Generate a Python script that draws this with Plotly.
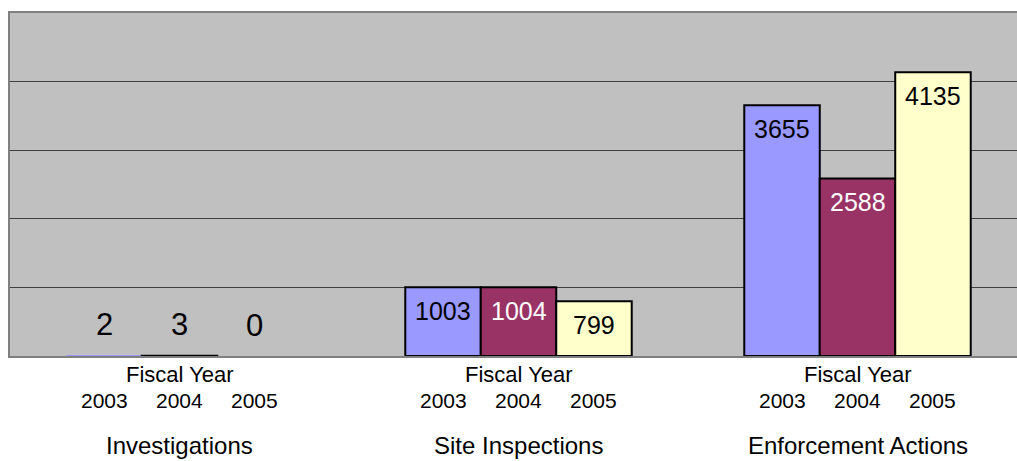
import plotly.graph_objects as go

# data
categories = ["Investigations", "Site Inspections", "Enforcement Actions"]
years = ["2003", "2004", "2005"]
fy2003 = [2, 1003, 3655]
fy2004 = [3, 1004, 2588]
fy2005 = [0, 799, 4135]

series = [fy2003, fy2004, fy2005]
colors = ["#9999FF", "#993366", "#FFFFCC"]
label_colors = ["black", "white", "black"]

FONT = "Arial, Liberation Sans, sans-serif"
GROUP_PX = 339
BAR_GAP = 0.332
bar_px = GROUP_PX * (1 - BAR_GAP) / 3

fig = go.Figure()
for i, (yr, vals) in enumerate(zip(years, series)):
    fig.add_trace(go.Bar(
        x=categories,
        y=vals,
        name=yr,
        marker=dict(color=colors[i],
                    line=dict(color="black", width=[2 if v >= 3 else 0 for v in vals])),
        hoverinfo="x+y+name",
    ))

annotations = []
for i, vals in enumerate(series):
    offset = (i - 1) * bar_px
    for cat, v in zip(categories, vals):
        small = v < 100
        annotations.append(dict(
            x=cat, y=v, xref="x", yref="y", xshift=offset,
            yshift=31 if small else -24,
            text=str(v), showarrow=False,
            font=dict(family=FONT, size=31 if small else 25,
                      color="black" if small else label_colors[i]),
        ))
    # year labels under each bar
    for cat in categories:
        annotations.append(dict(
            x=cat, y=0, xref="x", yref="y", xshift=offset, yshift=-44,
            text=years[i], showarrow=False,
            font=dict(family=FONT, size=21, color="black"),
        ))

for cat in categories:
    annotations.append(dict(
        x=cat, y=0, xref="x", yref="y", yshift=-18,
        text="Fiscal Year", showarrow=False,
        font=dict(family=FONT, size=22, color="black"),
    ))
    annotations.append(dict(
        x=cat, y=0, xref="x", yref="y", yshift=-89,
        text=cat, showarrow=False,
        font=dict(family=FONT, size=24, color="black"),
    ))

fig.update_layout(
    width=1017,
    height=461,
    margin=dict(l=10, r=0, t=13, b=105),
    barmode="group",
    bargap=BAR_GAP,
    bargroupgap=0,
    showlegend=False,
    plot_bgcolor="#C0C0C0",
    paper_bgcolor="white",
    font=dict(family=FONT, color="black"),
    annotations=annotations,
    xaxis=dict(
        range=[-0.5, -0.5 + 1007 / GROUP_PX],
        showticklabels=False,
        showgrid=False,
        showline=True,
        linecolor="#808080",
        linewidth=2,
        mirror=True,
        ticks="",
    ),
    yaxis=dict(
        range=[0, 5000],
        dtick=1000,
        showgrid=True,
        gridcolor="#404040",
        gridwidth=1,
        showticklabels=False,
        showline=True,
        linecolor="#808080",
        linewidth=2,
        zeroline=False,
        ticks="",
    ),
)

fig.write_html("out.html",
               config={"displayModeBar": False},
               post_script="document.body.style.margin='0';document.body.style.overflow='hidden';")
